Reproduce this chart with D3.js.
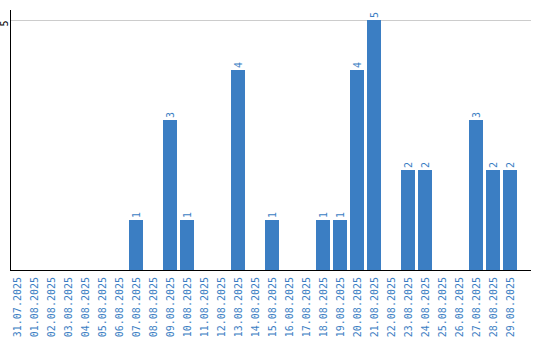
<!DOCTYPE html>
<html>
<head>
<meta charset="utf-8">
<script src="https://cdn.jsdelivr.net/npm/d3@7"></script>
<style>
  body { margin: 0; background: #fff; }
  text { font-family: "DejaVu Sans Mono", monospace; font-size: 10px; }
</style>
</head>
<body>
<div id="chart"></div>
<script>
/**
 * DATA
 * */
const dates = [
  "31.07.2025", "01.08.2025", "02.08.2025", "03.08.2025", "04.08.2025",
  "05.08.2025", "06.08.2025", "07.08.2025", "08.08.2025", "09.08.2025",
  "10.08.2025", "11.08.2025", "12.08.2025", "13.08.2025", "14.08.2025",
  "15.08.2025", "16.08.2025", "17.08.2025", "18.08.2025", "19.08.2025",
  "20.08.2025", "21.08.2025", "22.08.2025", "23.08.2025", "24.08.2025",
  "25.08.2025", "26.08.2025", "27.08.2025", "28.08.2025", "29.08.2025"
];
const counts = [
  0, 0, 0, 0, 0,
  0, 0, 1, 0, 3,
  1, 0, 0, 4, 0,
  1, 0, 0, 1, 1,
  4, 5, 0, 2, 2,
  0, 0, 3, 2, 2
];
const yTicks = [5];

/**
 * CONSTANTS
 * */
const width = 540,
  height = 340,
  barColor = "#3b7ec3";

const data = dates.map((d, i) => ({ date: d, value: counts[i] }));

const svg = d3.select("#chart")
  .append("svg")
  .attr("width", width)
  .attr("height", height);

const x = d3.scaleBand()
  .domain(dates)
  .range([10, 517])
  .paddingInner(3 / 17)
  .paddingOuter(0);

const y = d3.scaleLinear()
  .domain([0, 5.2])
  .range([270, 10]);

// gridlines
svg.selectAll("line.grid")
  .data(yTicks)
  .join("line")
  .attr("class", "grid")
  .attr("x1", 11)
  .attr("x2", 531)
  .attr("y1", d => y(d) + 0.5)
  .attr("y2", d => y(d) + 0.5)
  .attr("stroke", "#cccccc");

// y tick labels (rotated)
svg.selectAll("text.ytick")
  .data(yTicks)
  .join("text")
  .attr("class", "ytick")
  .attr("transform", d => `translate(4,${y(d) + 0.5}) rotate(-90)`)
  .attr("dy", "0.35em")
  .attr("text-anchor", "end")
  .attr("fill", "#000")
  .text(d => d);

// bars
svg.selectAll("rect.bar")
  .data(data.filter(d => d.value > 0))
  .join("rect")
  .attr("class", "bar")
  .attr("x", d => x(d.date))
  .attr("y", d => y(d.value))
  .attr("width", x.bandwidth())
  .attr("height", d => y(0) - y(d.value))
  .attr("fill", barColor);

// value labels
svg.selectAll("text.value")
  .data(data.filter(d => d.value > 0))
  .join("text")
  .attr("class", "value")
  .attr("transform", d => `translate(${x(d.date) + x.bandwidth() / 2},${y(d.value) - 2}) rotate(-90)`)
  .attr("dy", "0.35em")
  .attr("text-anchor", "start")
  .attr("fill", barColor)
  .text(d => d.value);

// axes lines
svg.append("line")
  .attr("x1", 10.5).attr("x2", 10.5)
  .attr("y1", 10).attr("y2", 270)
  .attr("stroke", "#000");

svg.append("line")
  .attr("x1", 10).attr("x2", 531)
  .attr("y1", 270.5).attr("y2", 270.5)
  .attr("stroke", "#000");

// x tick labels
svg.selectAll("text.xtick")
  .data(dates)
  .join("text")
  .attr("class", "xtick")
  .attr("transform", d => `translate(${x(d) + x.bandwidth() / 2},277) rotate(-90)`)
  .attr("dy", "0.35em")
  .attr("text-anchor", "end")
  .attr("fill", barColor)
  .text(d => d);
</script>
</body>
</html>
